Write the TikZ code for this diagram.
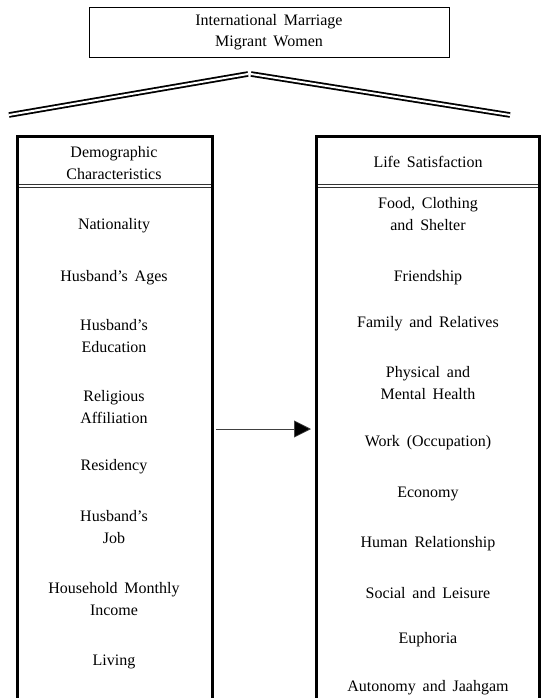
\documentclass[tikz,border=0pt]{standalone}
\usepackage{fontspec}
\setmainfont[WordSpace={1.7,1.0,1.0}]{Liberation Serif}
\usetikzlibrary{arrows.meta}
\begin{document}
\begin{tikzpicture}[x=1pt,y=-1pt,
  txt/.style={font=\fontsize{16}{21.5}\selectfont, align=center, inner sep=0pt},
  col/.style={line width=3pt},
  dbl/.style={double, double distance=2pt, line width=1.8pt},
  hdr/.style={double, double distance=1.6pt, line width=1.3pt, draw=black!80}]
\useasboundingbox (0,0) rectangle (541,698);
% top box
\node[draw, line width=0.8pt, minimum width=360pt, minimum height=50pt, txt] (top) at (269,32) {International Marriage\\Migrant Women};
% roof lines
\coordinate (apexL) at (248,74);
\coordinate (apexR) at (251,74);
\coordinate (endL) at (9,115);
\coordinate (endR) at (510,115);
\draw[dbl] (endL) -- (apexL);
\draw[dbl] (apexR) -- (endR);
% left column
\draw[col] (17,698) -- (17,136.5) -- (212,136.5) -- (212,698);
\draw[hdr] (18.5,186) -- (210.5,186);
% right column
\draw[col] (316,698) -- (316,136.5) -- (539.5,136.5) -- (539.5,698);
\draw[hdr] (317.5,186) -- (538,186);
% headers
\node[txt] (dh) at (114,163) {Demographic\\Characteristics};
\node[txt] (lh) at (428,162) {Life Satisfaction};
% left items
\node[txt] (l1) at (114,226) {Nationality};
\node[txt] (l2) at (114,278) {Husband's Ages};
\node[txt] (l3) at (114,336) {Husband's\\Education};
\node[txt] (l4) at (114,407) {Religious\\Affiliation};
\node[txt] (l5) at (114,467) {Residency};
\node[txt] (l6) at (114,527) {Husband's\\Job};
\node[txt] (l7) at (114,599) {Household Monthly\\Income};
\node[txt] (l8) at (114,662) {Living};
% right items
\node[txt] (r1) at (428,214) {Food, Clothing\\and Shelter};
\node[txt] (r2) at (428,278) {Friendship};
\node[txt] (r3) at (428,324) {Family and Relatives};
\node[txt] (r4) at (428,383) {Physical and\\Mental Health};
\node[txt] (r5) at (428,443) {Work (Occupation)};
\node[txt] (r6) at (428,494) {Economy};
\node[txt] (r7) at (428,544) {Human Relationship};
\node[txt] (r8) at (428,593) {Social and Leisure};
\node[txt] (r9) at (428,640) {Euphoria};
\node[txt] (r10) at (428,688) {Autonomy and Jaahgam};
% arrow
\coordinate (as) at (216,429);
\coordinate (ae) at (311,429);
\draw[line width=0.7pt, draw=black!75, -{Triangle[length=17pt,width=17pt,fill=black]}] (as) -- (ae);
\end{tikzpicture}
\end{document}
